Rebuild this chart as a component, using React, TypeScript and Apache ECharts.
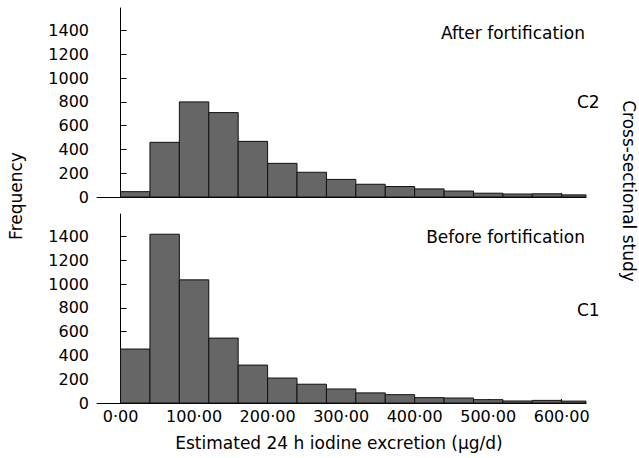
import React, { useEffect, useRef } from "react";
import * as echarts from "echarts";

// Histogram bins (µg/d), bin width 40
const binStarts = [0, 40, 80, 120, 160, 200, 240, 280, 320, 360, 400, 440, 480, 520, 560, 600];
const binWidth = 40;
// C2: after fortification
const afterValues = [45, 460, 800, 710, 468, 283, 208, 148, 107, 88, 68, 50, 32, 25, 27, 18];
// C1: before fortification
const beforeValues = [454, 1420, 1036, 546, 319, 210, 158, 118, 85, 70, 45, 42, 28, 17, 22, 16];

const xTicks = [0, 100, 200, 300, 400, 500, 600];
const yTicks = [0, 200, 400, 600, 800, 1000, 1200, 1400];

const FONT = "DejaVu Sans";

function renderBar(params: any, api: any) {
  const x0 = api.value(0);
  const x1 = api.value(1);
  const v = api.value(2);
  const p0 = api.coord([x0, 0]);
  const p1 = api.coord([x1, v]);
  const cs = params.coordSys;
  const right = Math.min(p1[0], cs.x + cs.width);
  return {
    type: "rect",
    shape: { x: p0[0], y: p1[1], width: right - p0[0], height: p0[1] - p1[1] },
    style: { fill: "#666666", stroke: "#111111", lineWidth: 1 },
  };
}

export default function App() {
  const ref = useRef<HTMLDivElement>(null);
  useEffect(() => {
    if (!ref.current) return;
    const chart = echarts.init(ref.current, null, { renderer: "svg" });
    const mk = (vals: number[]) => binStarts.map((s, i) => [s, s + binWidth, vals[i]]);
    const xAxisBase = (showLabels: boolean, gridIndex: number) => ({
      type: "value",
      gridIndex,
      min: -32,
      max: 633,
      splitLine: { show: false },
      axisLine: { show: true, onZero: true, lineStyle: { color: "#000", width: 1 } },
      axisTick: { show: true, inside: true, length: 4, customValues: xTicks, lineStyle: { color: "#000" } },
      axisLabel: {
        show: showLabels,
        customValues: xTicks,
        margin: 5,
        color: "#000",
        fontFamily: FONT,
        fontSize: 16,
        formatter: (v: number) => v.toFixed(2).replace(".", "·"),
      },
    });
    const yAxisBase = (gridIndex: number) => ({
      type: "value",
      gridIndex,
      min: 0,
      max: 1590,
      splitLine: { show: false },
      axisLine: { show: true, lineStyle: { color: "#000", width: 1 } },
      axisTick: { show: true, inside: true, length: 6, customValues: yTicks, lineStyle: { color: "#000" } },
      axisLabel: {
        customValues: yTicks,
        margin: 8,
        color: "#000",
        fontFamily: FONT,
        fontSize: 16,
        formatter: (v: number) => String(v),
      },
    });
    const textStyle = (x: number, y: number, text: string, align: string, rotation = 0) => ({
      type: "text",
      x,
      y,
      rotation,
      style: {
        text,
        fill: "#000",
        font: `17px "${FONT}"`,
        align,
        verticalAlign: "middle",
      },
    });
    chart.setOption({
      animation: false,
      backgroundColor: "#fff",
      grid: [
        { left: 97, top: 8, width: 489, height: 189 },
        { left: 97, top: 214, width: 489, height: 189 },
      ],
      xAxis: [xAxisBase(false, 0), xAxisBase(true, 1)],
      yAxis: [yAxisBase(0), yAxisBase(1)],
      series: [
        {
          type: "custom",
          xAxisIndex: 0,
          yAxisIndex: 0,
          renderItem: renderBar,
          encode: { x: [0, 1], y: 2 },
          data: mk(afterValues),
        },
        {
          type: "custom",
          xAxisIndex: 1,
          yAxisIndex: 1,
          renderItem: renderBar,
          encode: { x: [0, 1], y: 2 },
          data: mk(beforeValues),
        },
      ],
      graphic: [
        textStyle(585, 33, "After fortification", "right"),
        textStyle(577, 102, "C2", "left"),
        textStyle(585, 237, "Before fortification", "right"),
        textStyle(577, 310, "C1", "left"),
        textStyle(16, 196, "Frequency", "center", Math.PI / 2),
        textStyle(629, 191, "Cross-sectional study", "center", -Math.PI / 2),
        textStyle(339, 443, "Estimated 24 h iodine excretion (µg/d)", "center"),
      ],
    });
    return () => chart.dispose();
  }, []);
  return (
    <div
      ref={ref}
      style={{ position: "fixed", left: 0, top: 0, width: 639, height: 458 }}
    />
  );
}
